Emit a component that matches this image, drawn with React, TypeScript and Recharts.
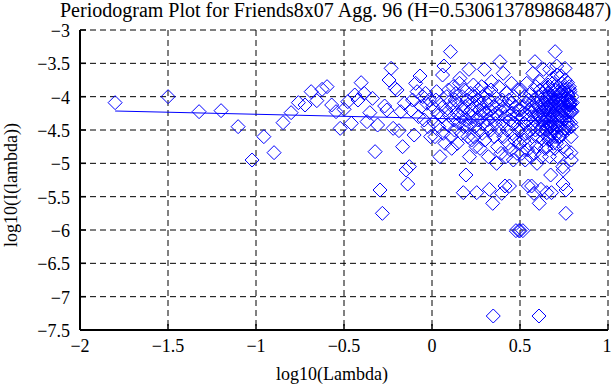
import React from 'react';
import { ScatterChart, Scatter, XAxis, YAxis, CartesianGrid } from 'recharts';

const FONT = '"Liberation Serif", "Times New Roman", serif';
const BLUE = '#0000ff';

const titleText = 'Periodogram Plot for Friends8x07 Agg. 96 (H=0.530613789868487)';
const xLabelText = 'log10(Lambda)';
const yLabelText = 'log10(I(lambda))';

const xTicks = [-2, -1.5, -1, -0.5, 0, 0.5, 1];
const yTicks = [-7.5, -7, -6.5, -6, -5.5, -5, -4.5, -4, -3.5, -3];

// [log10(lambda), log10(I(lambda))] — low frequencies
const lowBand: [number, number][] = [
  [-1.8005, -4.09], [-1.4995, -4.0], [-1.3234, -4.225], [-1.1985, -4.21], [-1.1015, -4.45], [-1.0224, -4.95],
  [-0.9554, -4.6], [-0.8974, -4.84], [-0.8463, -4.39], [-0.8005, -4.24], [-0.7591, -4.09], [-0.7213, -4.125],
  [-0.6866, -3.925], [-0.6544, -4.06], [-0.6244, -3.89], [-0.5964, -3.85], [-0.57, -4.125], [-0.5452, -4.225],
  [-0.5217, -4.475], [-0.4995, -4.19], [-0.4783, -4.075], [-0.4581, -4.4], [-0.4388, -3.975], [-0.4203, -4.05],
  [-0.4026, -3.79], [-0.3855, -3.95], [-0.3691, -4.375], [-0.3533, -4.24], [-0.3381, -4.025], [-0.3234, -4.825],
  [-0.3091, -4.425], [-0.2954, -5.4], [-0.282, -5.75], [-0.269, -4.14], [-0.2564, -4.2], [-0.2442, -3.75],
  [-0.2323, -3.575], [-0.2207, -4.475], [-0.2094, -3.875], [-0.1984, -3.9], [-0.1877, -4.51], [-0.1772, -4.225],
  [-0.167, -4.75], [-0.157, -4.1], [-0.1473, -5.1], [-0.1377, -5.31], [-0.1284, -5.05], [-0.1193, -4.2],
  [-0.1104, -4.05], [-0.1015, -4.575], [-0.0929, -3.8], [-0.0845, -3.925], [-0.0762, -4.3], [-0.0681, -3.69],
  [-0.0601, -4.15], [-0.0523, -4.0], [-0.0446, -4.35], [-0.0371, -3.95], [-0.0296, -4.1], [-0.0223, -4.45],
  [-0.0151, -4.05], [-0.0081, -4.6],
];

// middle frequencies (0 .. 0.5)
const midBand: [number, number][] = [
  [0.005, -4.15], [0.01, -4.38], [0.017, -4.6], [0.022, -4.05], [0.026, -3.925], [0.032, -4.25], [0.038, -4.45],
  [0.045, -4.9], [0.05, -4.12], [0.056, -4.3], [0.06, -3.675], [0.064, -4.55], [0.068, -3.54], [0.074, -4.7],
  [0.079, -4.2], [0.084, -4.0], [0.089, -4.42], [0.094, -3.9], [0.098, -4.28], [0.102, -4.075], [0.105, -3.325],
  [0.109, -4.6], [0.112, -4.775], [0.116, -4.15], [0.12, -3.85], [0.124, -4.35], [0.128, -4.5], [0.132, -4.05],
  [0.136, -3.95], [0.14, -4.25], [0.144, -4.7], [0.148, -4.1], [0.152, -4.4], [0.156, -3.8], [0.159, -3.725],
  [0.163, -4.3], [0.167, -4.55], [0.171, -4.0], [0.175, -4.2], [0.178, -5.44], [0.181, -4.45], [0.184, -3.9],
  [0.188, -4.15], [0.191, -4.35], [0.193, -5.175], [0.197, -4.45], [0.2, -4.05], [0.204, -4.6], [0.207, -4.25],
  [0.21, -3.59], [0.213, -4.9], [0.216, -4.4], [0.219, -3.95], [0.222, -4.2], [0.225, -4.65], [0.229, -4.1],
  [0.232, -4.3], [0.235, -3.825], [0.238, -4.6], [0.241, -4.0], [0.244, -4.45], [0.247, -4.15], [0.25, -4.75],
  [0.254, -5.44], [0.257, -4.05], [0.26, -4.35], [0.263, -3.9], [0.266, -4.5], [0.269, -4.2], [0.273, -4.775],
  [0.276, -4.1], [0.279, -4.3], [0.282, -3.85], [0.285, -4.55], [0.288, -4.0], [0.291, -4.4], [0.294, -4.2],
  [0.298, -3.59], [0.301, -4.65], [0.304, -4.25], [0.307, -3.95], [0.31, -4.45], [0.313, -4.1], [0.316, -4.35],
  [0.32, -4.9], [0.323, -4.05], [0.326, -5.39], [0.329, -4.2], [0.332, -4.5], [0.335, -3.9], [0.339, -3.775],
  [0.342, -4.3], [0.345, -5.6], [0.348, -7.29], [0.351, -4.15], [0.354, -4.6], [0.357, -4.0], [0.36, -4.4],
  [0.363, -4.25], [0.367, -5.0], [0.37, -4.1], [0.373, -4.75], [0.376, -4.3], [0.379, -3.85], [0.382, -4.5],
  [0.386, -3.475], [0.389, -4.2], [0.392, -4.85], [0.396, -5.45], [0.399, -4.05], [0.402, -4.4], [0.405, -3.65],
  [0.408, -4.6], [0.411, -4.15], [0.415, -5.34], [0.418, -4.3], [0.421, -4.9], [0.424, -3.95], [0.427, -4.5],
  [0.43, -4.2], [0.433, -4.7], [0.437, -4.05], [0.44, -5.34], [0.443, -4.35], [0.446, -4.8], [0.449, -4.1],
  [0.452, -3.8], [0.456, -4.55], [0.459, -4.25], [0.462, -4.95], [0.465, -4.0], [0.468, -4.4], [0.471, -4.65],
  [0.474, -4.15], [0.477, -6.01], [0.48, -4.3], [0.483, -4.85], [0.486, -3.9], [0.489, -4.5], [0.492, -4.2],
  [0.494, -6.01], [0.497, -4.7],
];

// high frequencies (0.5 .. 0.72), mirror image of the middle band
const highBand: [number, number][] = [
  [0.7219, -4.15], [0.7209, -4.38], [0.7194, -4.6], [0.7184, -4.05], [0.7176, -3.925], [0.7164, -4.25], [0.7151, -4.45],
  [0.7137, -4.9], [0.7127, -4.12], [0.7113, -4.3], [0.7104, -3.675], [0.7095, -4.55], [0.7085, -3.54], [0.7071, -4.7],
  [0.706, -4.2], [0.7048, -4.0], [0.7037, -4.42], [0.7025, -3.9], [0.7016, -4.28], [0.7006, -4.075], [0.6997, -3.325],
  [0.6987, -4.6], [0.6979, -4.775], [0.6968, -4.15], [0.6957, -3.85], [0.6946, -4.35], [0.6935, -4.5], [0.6925, -4.05],
  [0.6914, -3.95], [0.6903, -4.25], [0.6892, -4.7], [0.6881, -4.1], [0.687, -4.4], [0.6857, -3.8], [0.6848, -3.725],
  [0.6835, -4.3], [0.6823, -4.55], [0.681, -4.0], [0.6798, -4.2], [0.6788, -5.44], [0.6779, -4.45], [0.6769, -3.9],
  [0.6757, -4.15], [0.6747, -4.35], [0.6741, -5.175], [0.6728, -4.45], [0.6719, -4.05], [0.6704, -4.6], [0.6694, -4.25],
  [0.6683, -3.59], [0.6672, -4.9], [0.6661, -4.4], [0.665, -3.95], [0.6639, -4.2], [0.6628, -4.65], [0.6613, -4.1],
  [0.6603, -4.3], [0.6592, -3.825], [0.6581, -4.6], [0.657, -4.0], [0.6559, -4.45], [0.6548, -4.15], [0.6537, -4.75],
  [0.652, -5.44], [0.6507, -4.05], [0.6494, -4.35], [0.6481, -3.9], [0.6468, -4.5], [0.6455, -4.2], [0.6438, -4.775],
  [0.6425, -4.1], [0.6412, -4.3], [0.6399, -3.85], [0.6386, -4.55], [0.6374, -4.0], [0.6361, -4.4], [0.6348, -4.2],
  [0.6331, -3.59], [0.6317, -4.65], [0.6302, -4.25], [0.6287, -3.95], [0.6271, -4.45], [0.6256, -4.1], [0.6241, -4.35],
  [0.6221, -4.9], [0.6206, -4.05], [0.619, -5.39], [0.6175, -4.2], [0.616, -4.5], [0.6145, -3.9], [0.6125, -3.775],
  [0.611, -4.3], [0.6094, -5.6], [0.6079, -7.29], [0.6063, -4.15], [0.6045, -4.6], [0.6026, -4.0], [0.6008, -4.4],
  [0.599, -4.25], [0.5966, -5.0], [0.5947, -4.1], [0.5929, -4.75], [0.5911, -4.3], [0.5893, -3.85], [0.5874, -4.5],
  [0.585, -3.475], [0.5832, -4.2], [0.5814, -4.85], [0.5789, -5.45], [0.5771, -4.05], [0.5751, -4.4], [0.573, -3.65],
  [0.5709, -4.6], [0.5688, -4.15], [0.566, -5.34], [0.5639, -4.3], [0.5618, -4.9], [0.5597, -3.95], [0.5575, -4.5],
  [0.5551, -4.2], [0.5528, -4.7], [0.5497, -4.05], [0.5474, -5.34], [0.5451, -4.35], [0.5428, -4.8], [0.5405, -4.1],
  [0.538, -3.8], [0.5345, -4.55], [0.5319, -4.25], [0.5294, -4.95], [0.5268, -4.0], [0.5242, -4.4], [0.5216, -4.65],
  [0.5191, -4.15], [0.5163, -6.01], [0.5134, -4.3], [0.5105, -4.85], [0.5077, -3.9], [0.5048, -4.5], [0.5019, -4.2],
  [0.5, -6.01], [0.4972, -4.7],
];

// highest frequencies (0.72 .. 0.8), mirror image of the low band
const topBand: [number, number][] = [
  [0.7971, -4.09], [0.796, -4.0], [0.7949, -4.225], [0.7938, -4.21], [0.7927, -4.45], [0.7916, -4.95],
  [0.7905, -4.6], [0.7893, -4.84], [0.7882, -4.39], [0.7871, -4.24], [0.786, -4.09], [0.7848, -4.125],
  [0.7837, -3.925], [0.7826, -4.06], [0.7815, -3.89], [0.7803, -3.85], [0.7792, -4.125], [0.778, -4.225],
  [0.7769, -4.475], [0.7757, -4.19], [0.7746, -4.075], [0.7734, -4.4], [0.7723, -3.975], [0.7711, -4.05],
  [0.7699, -3.79], [0.7688, -3.95], [0.7676, -4.375], [0.7664, -4.24], [0.7652, -4.025], [0.764, -4.825],
  [0.7629, -4.425], [0.7617, -5.4], [0.7605, -5.75], [0.7593, -4.14], [0.7581, -4.2], [0.7569, -3.75],
  [0.7556, -3.575], [0.7544, -4.475], [0.7532, -3.875], [0.752, -3.9], [0.7508, -4.51], [0.7495, -4.225],
  [0.7483, -4.75], [0.747, -4.1], [0.7458, -5.1], [0.7446, -5.31], [0.7433, -5.05], [0.7421, -4.2],
  [0.7408, -4.05], [0.7395, -4.575], [0.7382, -3.8], [0.737, -3.925], [0.7357, -4.3], [0.7344, -3.69],
  [0.7331, -4.15], [0.7318, -4.0], [0.7305, -4.35], [0.7292, -3.95], [0.7279, -4.1], [0.7266, -4.45],
  [0.7253, -4.05], [0.724, -4.6],
];

// least-squares fit line endpoints
const fitLogLambda = [-1.8005, 0.7971];
const fitLogPeriod = [-4.215, -4.374];

const points = [...lowBand, ...midBand, ...highBand, ...topBand].map(([x, y]) => ({ x, y }));
const fitLine = fitLogLambda.map((x, i) => ({ x, y: fitLogPeriod[i] }));

const fmt = (v: number) => (v < 0 ? `\u2212${Math.abs(v)}` : `${v}`);

function XTick(props: any) {
  const { x, y, payload } = props;
  return (
    <text x={x} y={y} dy={22} textAnchor="middle" fontFamily={FONT} fontSize={18} fill="#000">
      {fmt(payload.value)}
    </text>
  );
}

function YTick(props: any) {
  const { x, y, payload } = props;
  return (
    <text x={x} y={y} dy={7} textAnchor="end" fontFamily={FONT} fontSize={18} fill="#000">
      {fmt(payload.value)}
    </text>
  );
}

function NoTick() {
  return <g />;
}

function Diamond(props: any) {
  const { cx, cy } = props;
  if (cx == null || cy == null) return <g />;
  const r = 7;
  return (
    <path
      d={`M${cx},${cy - r}L${cx + r},${cy}L${cx},${cy + r}L${cx - r},${cy}Z`}
      fill="none"
      stroke={BLUE}
      strokeWidth={1}
    />
  );
}

export default function App() {
  return (
    <div style={{ position: 'absolute', left: 0, top: 0, width: 611, height: 385, background: '#fff', overflow: 'hidden' }}>
      <ScatterChart width={611} height={385} margin={{ top: 30, right: 3, bottom: 0, left: 0 }}>
        <CartesianGrid stroke="#000" strokeDasharray="6 4" strokeWidth={1} />
        <XAxis
          type="number"
          dataKey="x"
          domain={[-2, 1]}
          ticks={xTicks}
          allowDataOverflow
          height={55}
          tickSize={-6}
          tickMargin={6}
          tick={XTick}
          axisLine={{ stroke: '#000', strokeWidth: 2 }}
          tickLine={{ stroke: '#000', strokeWidth: 1.5 }}
        />
        <XAxis
          xAxisId="top"
          orientation="top"
          type="number"
          domain={[-2, 1]}
          ticks={xTicks}
          allowDataOverflow
          height={0}
          tickSize={-6}
          tick={NoTick}
          axisLine={{ stroke: '#000', strokeWidth: 2 }}
          tickLine={{ stroke: '#000', strokeWidth: 1.5 }}
        />
        <YAxis
          type="number"
          dataKey="y"
          domain={[-7.5, -3]}
          ticks={yTicks}
          allowDataOverflow
          width={80}
          tickSize={-6}
          tickMargin={16}
          tick={YTick}
          axisLine={{ stroke: '#000', strokeWidth: 2 }}
          tickLine={{ stroke: '#000', strokeWidth: 1.5 }}
        />
        <YAxis
          yAxisId="right"
          orientation="right"
          type="number"
          domain={[-7.5, -3]}
          ticks={yTicks}
          allowDataOverflow
          width={0}
          tickSize={-6}
          tick={NoTick}
          axisLine={{ stroke: '#000', strokeWidth: 2 }}
          tickLine={{ stroke: '#000', strokeWidth: 1.5 }}
        />
        <Scatter data={points} shape={Diamond} isAnimationActive={false} />
        <Scatter
          data={fitLine}
          line={{ stroke: BLUE, strokeWidth: 1 }}
          shape={NoTick}
          isAnimationActive={false}
        />
      </ScatterChart>
      <svg
        width={611}
        height={385}
        style={{ position: 'absolute', left: 0, top: 0, pointerEvents: 'none' }}
      >
        <text x={60} y={17} fontFamily={FONT} fontSize={20} fill="#000">
          {titleText}
        </text>
        <text x={332} y={380} textAnchor="middle" fontFamily={FONT} fontSize={18} fill="#000">
          {xLabelText}
        </text>
        <text
          transform="translate(17,185) rotate(-90)"
          textAnchor="middle"
          fontFamily={FONT}
          fontSize={18}
          fill="#000"
        >
          {yLabelText}
        </text>
      </svg>
    </div>
  );
}
